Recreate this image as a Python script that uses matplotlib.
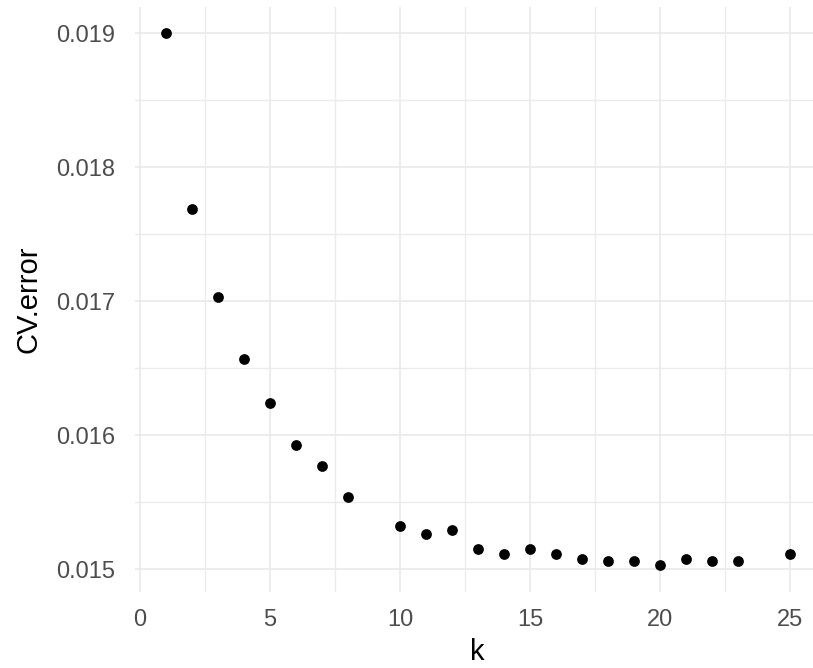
import matplotlib
matplotlib.use("Agg")
import matplotlib.pyplot as plt
from matplotlib.ticker import MultipleLocator

k = [1, 2, 3, 4, 5, 6, 7, 8, 10, 11, 12, 13, 14, 15, 16, 17, 18, 19, 20, 21, 22, 23, 25]
cv_error = [0.01900, 0.01769, 0.01703, 0.01657, 0.01624, 0.01593, 0.01577, 0.01554,
            0.01532, 0.01526, 0.01529, 0.01515, 0.01511, 0.01515, 0.01511, 0.01508,
            0.01506, 0.01506, 0.01503, 0.01508, 0.01506, 0.01506, 0.01511]
x_ticks = [0, 5, 10, 15, 20, 25]
y_ticks = [0.015, 0.016, 0.017, 0.018, 0.019]
y_labels = ["0.015", "0.016", "0.017", "0.018", "0.019"]

plt.rcParams['font.family'] = ['Liberation Sans', 'DejaVu Sans']

W, H = 813, 668
fig = plt.figure(figsize=(W / 100, H / 100), dpi=100)
left_px, right_px, top_px, bot_px = 134.8, 813, 6.6, 592
ax = fig.add_axes([left_px / W, (H - bot_px) / H, (right_px - left_px) / W, (bot_px - top_px) / H])

ax.scatter(k, cv_error, s=60, color='black', zorder=3, linewidths=0)

ax.set_xlim(-0.2, 25.88)
ax.set_ylim(0.01483, 0.0192)
ax.set_xticks(x_ticks)
ax.set_xticklabels([str(t) for t in x_ticks])
ax.set_yticks(y_ticks)
ax.set_yticklabels(y_labels)
ax.xaxis.set_minor_locator(MultipleLocator(2.5))
ax.yaxis.set_minor_locator(MultipleLocator(0.0005))

ax.grid(which='major', color='#EBEBEB', linewidth=1.3)
ax.grid(which='minor', color='#EBEBEB', linewidth=1.0)
ax.set_axisbelow(True)
for s in ax.spines.values():
    s.set_visible(False)
ax.tick_params(which='both', length=0)
ax.tick_params(axis='y', labelsize=17, labelcolor='#4D4D4D', pad=14)
ax.tick_params(axis='x', labelsize=17, labelcolor='#4D4D4D', pad=12)

fig.text(477 / W, 1 - 652 / H, 'k', ha='center', va='center', fontsize=21, color='black')
fig.text(29 / W, 1 - 299 / H, 'CV.error', ha='center', va='center', rotation=90, fontsize=21, color='black')

fig.savefig('out.png', dpi=100)
